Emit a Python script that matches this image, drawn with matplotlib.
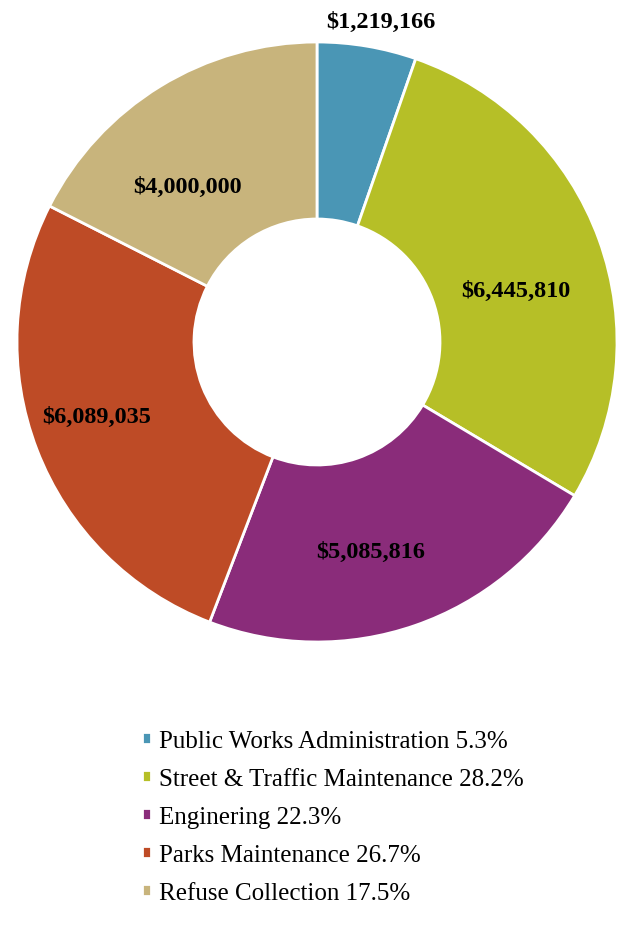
import numpy as np
import matplotlib
matplotlib.use("Agg")
import matplotlib.pyplot as plt

categories = ["Public Works Administration", "Street & Traffic Maintenance",
              "Enginering", "Parks Maintenance", "Refuse Collection"]
values = [1219166, 6445810, 5085816, 6089035, 4000000]
colors = ["#4A96B5", "#B6BF27", "#8A2C7A", "#BE4B26", "#C8B47C"]

W, H = 621, 928
fig = plt.figure(figsize=(W / 100, H / 100), dpi=100)
cx, cy, R = 317, 343, 300
ax = fig.add_axes([(cx - R) / W, (H - cy - R) / H, 2 * R / W, 2 * R / H])

wedges, _ = ax.pie(values, colors=colors, startangle=90, counterclock=False,
                   radius=1.0, wedgeprops=dict(width=0.59, edgecolor="white", linewidth=2.0))
ax.set_xlim(-1, 1)
ax.set_ylim(-1, 1)
ax.set_aspect("auto")
ax.axis("off")

# label placement (radius, angle offset in degrees)
label_pos = [(1.09, -1.6), (0.685, -5.4), (0.72, -4.6), (0.775, -2.4), (0.675, 8.1)]
for w, v, (r, da) in zip(wedges, values, label_pos):
    ang = np.deg2rad((w.theta1 + w.theta2) / 2 + da)
    ax.text(r * np.cos(ang), r * np.sin(ang), f"${v:,.0f}", ha="center", va="center",
            fontsize=17.5, fontweight="bold", family="Liberation Serif", color="black",
            clip_on=False)

total = sum(values)
legend_labels = [f"{c} {v / total * 100:.1f}%" for c, v in zip(categories, values)]
fig.legend(wedges, legend_labels, loc="upper left", bbox_to_anchor=(142 / W, 1 - 731 / H),
           frameon=False, prop=dict(family="Liberation Serif", size=18),
           handlelength=0.34, handleheight=0.34, handletextpad=0.35, labelspacing=0.64,
           borderpad=0, borderaxespad=0)

fig.savefig("out.png", dpi=100)
